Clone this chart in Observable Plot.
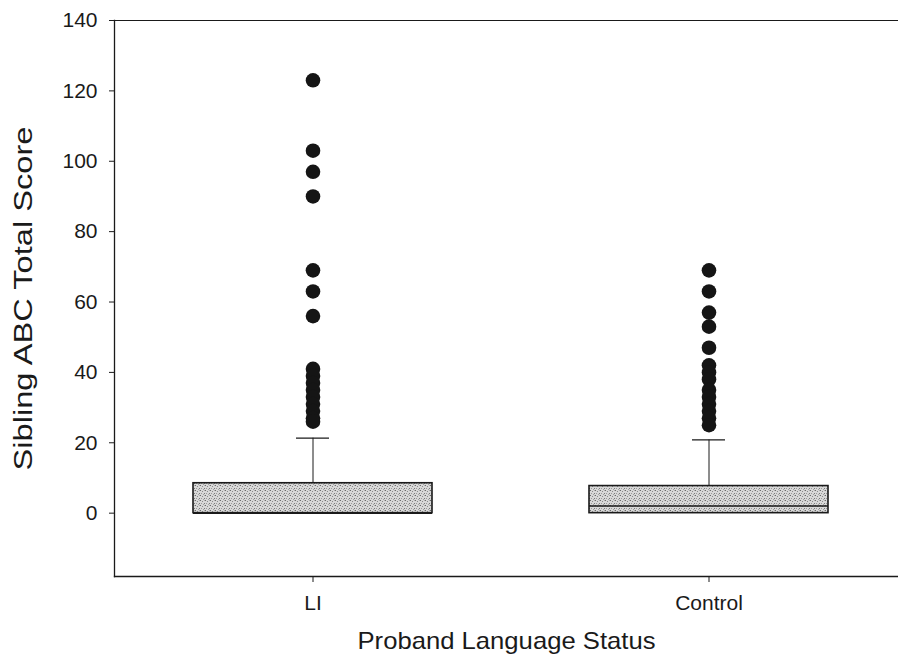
<!DOCTYPE html>
<html>
<head>
<meta charset="utf-8">
<script src="https://cdn.jsdelivr.net/npm/d3@7"></script>
<script src="https://cdn.jsdelivr.net/npm/@observablehq/plot@0.6"></script>
<style>
  html, body { margin: 0; padding: 0; background: #fff; }
  #chart svg { display: block; font-family: "Liberation Sans", Arial, sans-serif; }
  g[aria-label="y-axis label"] text { font-size: 25px; }
  g[aria-label="x-axis label"] text { font-size: 24px; }
</style>
</head>
<body>
<div id="chart"></div>
<script>
const groups = ["LI", "Control"];
const q1 = [0, 0];
const medians = [0, 2];
const q3 = [8.5, 7.7];
const whiskerHi = [21.3, 20.8];
const outliersLI = [123, 103, 97, 90, 69, 63, 56, 41, 39, 37, 35, 33, 31, 29, 27, 26];
const outliersControl = [69, 63, 57, 53, 47, 42, 40, 38, 35, 33, 31, 29, 27, 25];
const yTicks = [0, 20, 40, 60, 80, 100, 120, 140];

const boxes = groups.map((g, i) => ({group: g, q1: q1[i], median: medians[i], q3: q3[i], hi: whiskerHi[i]}));
const outliers = [
  ...outliersLI.map(v => ({group: "LI", value: v})),
  ...outliersControl.map(v => ({group: "Control", value: v}))
];

const ink = "#1a1a1a";

const chart = Plot.plot({
  width: 898,
  height: 656,
  marginLeft: 114,
  marginRight: 0,
  marginTop: 20,
  marginBottom: 80,
  style: {fontFamily: "'Liberation Sans', Arial, sans-serif", fontSize: "21px", color: ink, background: "#fff"},
  x: {domain: groups, paddingInner: 0.3965, paddingOuter: 0.1881, align: 0.53},
  y: {domain: [-18, 140]},
  marks: [
    Plot.frame({anchor: "top", stroke: ink, strokeWidth: 1.1}),
    Plot.frame({anchor: "left", stroke: ink, strokeWidth: 1.3}),
    Plot.frame({anchor: "bottom", stroke: ink, strokeWidth: 1.3}),
    Plot.axisY({ticks: yTicks, tickSize: 5, tickPadding: 12, fontSize: 21, label: "Sibling ABC Total Score", labelAnchor: "center", labelArrow: "none", labelOffset: 100}),
    Plot.axisX({tickSize: 6, tickPadding: 13, fontSize: 21, label: "Proband Language Status", labelAnchor: "center", labelArrow: "none", labelOffset: 72}),
    Plot.ruleX(boxes, {x: "group", y1: "q3", y2: "hi", stroke: ink, strokeWidth: 1}),
    Plot.tickY(boxes, {x: "group", y: "hi", stroke: ink, strokeWidth: 1.2, insetLeft: 103, insetRight: 103}),
    Plot.barY(boxes, {x: "group", y1: "q1", y2: "q3", fill: "url(#stipple)", stroke: ink, strokeWidth: 1.6}),
    Plot.tickY(boxes, {x: "group", y: "median", stroke: ink, strokeWidth: 1.5}),
    Plot.dot(outliers, {x: "group", y: "value", r: 7.3, fill: "#151515", stroke: "none"})
  ]
});

// stipple pattern for the boxes
const defs = d3.select(chart).insert("defs", ":first-child");
const pat = defs.append("pattern").attr("id", "stipple").attr("patternUnits", "userSpaceOnUse").attr("width", 5).attr("height", 5);
pat.append("rect").attr("width", 5).attr("height", 5).attr("fill", "#d8d8d8");
[[0, 0, "#6a6a6a"], [2, 1, "#8a8a8a"], [4, 3, "#7a7a7a"], [1, 3, "#9a9a9a"], [3, 4, "#a0a0a0"], [4, 0, "#b0b0b0"]]
  .forEach(([x, y, c]) => pat.append("rect").attr("x", x).attr("y", y).attr("width", 1).attr("height", 1).attr("fill", c));

// stretch axis titles to the reference's lengths
d3.select(chart).select('g[aria-label="y-axis label"] text').attr("textLength", 344).attr("lengthAdjust", "spacingAndGlyphs");
d3.select(chart).select('g[aria-label="x-axis label"] text').attr("textLength", 298).attr("lengthAdjust", "spacingAndGlyphs");

document.getElementById("chart").appendChild(chart);
</script>
</body>
</html>
